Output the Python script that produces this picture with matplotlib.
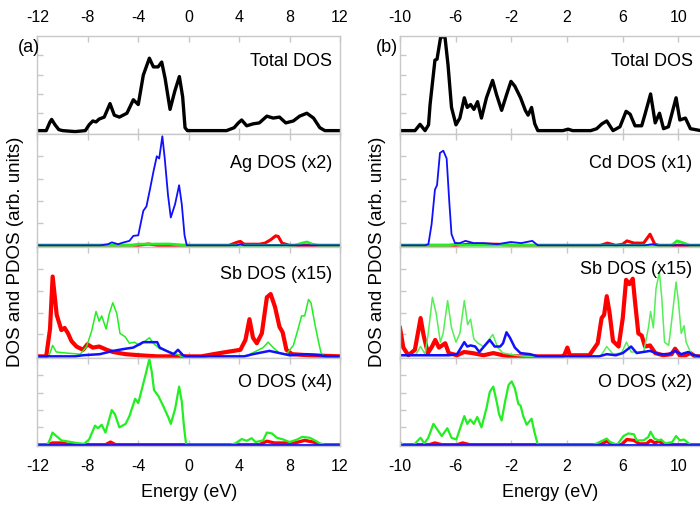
import numpy as np
import matplotlib

matplotlib.use("Agg")
import matplotlib.pyplot as plt

plt.rcParams["font.family"] = ["Liberation Sans", "DejaVu Sans"]
plt.rcParams["axes.unicode_minus"] = False

RED = "#ff0000"
GREEN = "#22ee22"
BLUE = "#1010ff"
BLACK = "#000000"
FRAME = "#c8c8c8"

# ---------------- (a) left column, energies in eV, DOS in arb. units ----------------
a_total = [(-12, 0.02), (-11.3, 0.02), (-11.0, 0.11), (-10.87, 0.136), (-10.6, 0.08), (-10.3, 0.03),
           (-10.0, 0.02), (-9.0, 0.01), (-8.2, 0.02), (-7.9, 0.08), (-7.6, 0.12), (-7.35, 0.11),
           (-7.1, 0.14), (-6.7, 0.16), (-6.24, 0.30), (-5.9, 0.18), (-5.5, 0.16), (-4.9, 0.20),
           (-4.39, 0.34), (-4.0, 0.29), (-3.6, 0.595), (-3.12, 0.77), (-2.8, 0.68), (-2.43, 0.68),
           (-2.14, 0.73), (-1.87, 0.56), (-1.48, 0.24), (-1.1, 0.43), (-0.74, 0.58), (-0.48, 0.37),
           (-0.29, 0.05), (-0.1, 0.02), (3.0, 0.02), (3.6, 0.05), (3.94, 0.10), (4.2, 0.13),
           (4.6, 0.07), (5.1, 0.09), (5.6, 0.10), (6.2, 0.17), (6.7, 0.15), (7.2, 0.16), (7.7, 0.10),
           (8.3, 0.12), (8.8, 0.17), (9.37, 0.20), (9.9, 0.15), (10.4, 0.05), (10.8, 0.02), (12, 0.02)]

a_ag_s = [(-12, 0.0), (-4.0, 0.0), (-3.2, 0.012), (-2.5, 0.0), (3.2, 0.0), (3.9, 0.03), (4.1, 0.035),
          (4.4, 0.01), (5.6, 0.01), (6.05, 0.02), (6.5, 0.05), (6.9, 0.085), (7.1, 0.08), (7.4, 0.02),
          (8.0, 0.0), (12, 0.0)]
a_ag_p = [(-12, 0.0), (-4.5, 0.0), (-4.0, 0.01), (-1.5, 0.012), (-0.5, 0.0), (8.4, 0.0), (9.0, 0.02),
          (9.37, 0.03), (9.8, 0.01), (10.3, 0.0), (12, 0.0)]
a_ag_d = [(-12, 0.0), (-7.0, 0.0), (-6.4, 0.01), (-6.1, 0.027), (-5.6, 0.01), (-5.2, 0.025),
          (-4.7, 0.04), (-4.39, 0.085), (-4.0, 0.09), (-3.6, 0.31), (-3.35, 0.35), (-3.06, 0.51),
          (-2.8, 0.66), (-2.53, 0.80), (-2.34, 0.78), (-2.09, 0.98), (-1.9, 0.78), (-1.64, 0.45),
          (-1.42, 0.25), (-1.08, 0.37), (-0.76, 0.54), (-0.55, 0.37), (-0.33, 0.09), (-0.15, 0.0),
          (3.8, 0.0), (4.1, 0.01), (4.4, 0.0), (12, 0.0)]

a_sb_s = [(-12, 0.0), (-11.3, 0.0), (-11.0, 0.25), (-10.79, 0.73), (-10.47, 0.38), (-10.1, 0.24),
          (-9.84, 0.26), (-9.57, 0.21), (-9.3, 0.14), (-8.9, 0.09), (-8.38, 0.06), (-8.04, 0.11),
          (-7.6, 0.08), (-7.1, 0.09), (-6.5, 0.06), (-6.0, 0.04), (-5.0, 0.02), (-3.9, 0.01),
          (-2.5, 0.0), (1.0, 0.0), (1.96, 0.02), (3.0, 0.04), (4.1, 0.06), (4.5, 0.15), (4.82, 0.34),
          (5.1, 0.17), (5.4, 0.12), (5.8, 0.21), (6.2, 0.54), (6.5, 0.57), (6.85, 0.45), (7.2, 0.27),
          (7.45, 0.22), (7.75, 0.06), (8.2, 0.02), (9.5, 0.01), (12, 0.0)]
a_sb_p = [(-12, 0.0), (-11.1, 0.0), (-10.79, 0.10), (-10.5, 0.04), (-9.7, 0.03), (-8.6, 0.02),
          (-8.1, 0.09), (-7.7, 0.23), (-7.35, 0.41), (-7.1, 0.32), (-6.9, 0.37), (-6.55, 0.25),
          (-6.3, 0.39), (-6.02, 0.49), (-5.7, 0.39), (-5.45, 0.21), (-5.05, 0.18), (-4.7, 0.12),
          (-4.3, 0.13), (-3.9, 0.10), (-3.12, 0.17), (-2.8, 0.12), (-2.3, 0.07), (-1.76, 0.05),
          (-0.95, 0.02), (-0.6, 0.0), (4.3, 0.0), (4.7, 0.01), (5.9, 0.08), (6.3, 0.13), (6.7, 0.08),
          (7.2, 0.03), (7.75, 0.02), (8.3, 0.10), (8.7, 0.26), (8.95, 0.37), (9.2, 0.37), (9.5, 0.52),
          (9.7, 0.49), (10.0, 0.30), (10.3, 0.13), (10.5, 0.03), (10.8, 0.0), (12, 0.0)]
a_sb_d = [(-12, 0.0), (-9.0, 0.0), (-8.4, 0.01), (-7.05, 0.02), (-6.0, 0.05), (-5.0, 0.07),
          (-4.4, 0.08), (-3.6, 0.13), (-3.1, 0.13), (-2.5, 0.13), (-2.3, 0.08), (-1.76, 0.05),
          (-1.2, 0.02), (-0.85, 0.06), (-0.45, 0.01), (-0.2, 0.0), (4.4, 0.0), (5.1, 0.02), (6.4, 0.05),
          (7.2, 0.03), (8.0, 0.01), (9.37, 0.02), (10.4, 0.01), (11.0, 0.0), (12, 0.0)]

a_o_s = [(-12, 0.0), (-11.2, 0.0), (-10.8, 0.02), (-10.0, 0.02), (-9.5, 0.0), (-6.6, 0.0), (-6.2, 0.03),
         (-5.8, 0.0), (5.6, 0.0), (6.2, 0.04), (6.8, 0.02), (8.4, 0.02), (9.2, 0.05), (9.9, 0.03),
         (10.4, 0.0), (12, 0.0)]
a_o_p = [(-12, 0.0), (-11.2, 0.0), (-11.0, 0.06), (-10.8, 0.14), (-10.5, 0.10), (-10.1, 0.05),
         (-9.7, 0.04), (-8.9, 0.02), (-8.3, 0.01), (-7.9, 0.06), (-7.43, 0.22), (-7.2, 0.19),
         (-6.9, 0.23), (-6.6, 0.14), (-6.1, 0.40), (-5.85, 0.35), (-5.5, 0.20), (-5.0, 0.24),
         (-4.7, 0.33), (-4.25, 0.53), (-4.0, 0.48), (-3.7, 0.65), (-3.4, 0.82), (-3.12, 0.99),
         (-2.93, 0.84), (-2.75, 0.63), (-2.4, 0.56), (-2.0, 0.44), (-1.6, 0.31), (-1.42, 0.24),
         (-1.08, 0.41), (-0.76, 0.67), (-0.55, 0.50), (-0.37, 0.20), (-0.2, 0.0), (3.3, 0.0),
         (3.7, 0.015), (4.2, 0.065), (4.6, 0.045), (5.0, 0.075), (5.3, 0.03), (5.9, 0.05), (6.2, 0.14),
         (6.6, 0.13), (7.0, 0.08), (7.5, 0.06), (8.0, 0.03), (8.6, 0.06), (9.0, 0.09), (9.6, 0.08),
         (10.0, 0.05), (10.4, 0.015), (10.8, 0.0), (12, 0.0)]
a_o_d = [(-12, 0.0), (12, 0.0)]

# ---------------- (b) right column ----------------
b_total = [(-10, 0.02), (-9.3, 0.02), (-8.92, 0.02), (-8.56, 0.085), (-8.2, 0.02), (-7.95, 0.08),
           (-7.84, 0.29), (-7.49, 0.75), (-7.34, 0.76), (-7.08, 0.99), (-6.77, 0.99), (-6.55, 0.70),
           (-6.3, 0.26), (-5.98, 0.08), (-5.7, 0.15), (-5.38, 0.36), (-5.17, 0.26), (-4.93, 0.29),
           (-4.69, 0.24), (-4.43, 0.32), (-4.15, 0.15), (-3.79, 0.36), (-3.35, 0.54), (-3.06, 0.39),
           (-2.7, 0.23), (-2.35, 0.39), (-2.03, 0.53), (-1.75, 0.48), (-1.34, 0.36), (-1.0, 0.23),
           (-0.8, 0.18), (-0.55, 0.26), (-0.32, 0.09), (-0.1, 0.02), (1.7, 0.02), (2.07, 0.035),
           (2.4, 0.02), (3.7, 0.02), (4.13, 0.04), (4.5, 0.09), (4.85, 0.12), (5.3, 0.02), (5.8, 0.06),
           (6.24, 0.22), (6.53, 0.19), (6.88, 0.07), (7.36, 0.07), (7.6, 0.19), (8.0, 0.40),
           (8.33, 0.10), (8.64, 0.20), (8.93, 0.04), (9.28, 0.06), (9.83, 0.36), (10.1, 0.13),
           (10.5, 0.15), (10.86, 0.04), (11.6, 0.02)]

b_cd_s = [(-10, 0.0), (-6.0, 0.0), (-5.0, 0.01), (-3.0, 0.01), (-2.0, 0.0), (4.4, 0.0), (4.9, 0.02),
          (5.5, 0.0), (6.0, 0.01), (6.3, 0.04), (6.8, 0.02), (7.5, 0.02), (7.96, 0.10), (8.3, 0.01),
          (8.6, 0.0), (11.6, 0.0)]
b_cd_p = [(-10, 0.0), (-6.5, 0.0), (-6.0, 0.01), (-5.5, 0.0), (9.5, 0.0), (9.9, 0.04), (10.4, 0.02),
          (10.8, 0.0), (11.6, 0.0)]
b_cd_d = [(-10, 0.0), (-8.2, 0.0), (-7.96, 0.01), (-7.73, 0.19), (-7.49, 0.50), (-7.34, 0.54),
          (-7.13, 0.83), (-6.89, 0.85), (-6.65, 0.78), (-6.46, 0.39), (-6.3, 0.10), (-6.05, 0.02),
          (-5.7, 0.02), (-5.3, 0.04), (-4.7, 0.02), (-4.0, 0.02), (-3.0, 0.01), (-2.05, 0.03),
          (-1.3, 0.02), (-0.5, 0.04), (-0.1, 0.0), (7.6, 0.0), (8.1, 0.01), (8.5, 0.0), (11.6, 0.0)]

b_sb_s = [(-10, 0.26), (-9.76, 0.08), (-9.4, 0.01), (-8.93, 0.06), (-8.52, 0.35), (-8.3, 0.19),
          (-8.0, 0.03), (-7.7, 0.09), (-7.47, 0.15), (-7.2, 0.08), (-6.75, 0.12), (-6.5, 0.03),
          (-5.9, 0.01), (-5.4, 0.04), (-4.8, 0.03), (-4.0, 0.01), (-3.3, 0.03), (-2.6, 0.01),
          (-2.0, 0.0), (1.6, 0.0), (1.8, 0.01), (2.02, 0.08), (2.2, 0.01), (3.6, 0.01), (4.2, 0.12),
          (4.48, 0.35), (4.66, 0.38), (4.85, 0.55), (5.04, 0.41), (5.3, 0.14), (5.7, 0.09), (6.0, 0.35),
          (6.24, 0.70), (6.48, 0.66), (6.72, 0.71), (6.88, 0.50), (7.12, 0.21), (7.36, 0.19),
          (7.6, 0.09), (7.96, 0.10), (8.33, 0.03), (8.9, 0.01), (9.5, 0.02), (9.76, 0.07),
          (10.1, 0.01), (10.5, 0.01), (10.86, 0.03), (11.2, 0.0), (11.6, 0.0)]
b_sb_p = [(-10, 0.01), (-8.9, 0.01), (-8.52, 0.09), (-8.2, 0.02), (-7.97, 0.21), (-7.67, 0.54),
          (-7.4, 0.39), (-7.1, 0.13), (-6.9, 0.21), (-6.58, 0.51), (-6.3, 0.26), (-5.98, 0.13),
          (-5.7, 0.21), (-5.38, 0.51), (-5.14, 0.29), (-4.93, 0.34), (-4.7, 0.16), (-4.4, 0.12),
          (-4.0, 0.09), (-3.7, 0.14), (-3.33, 0.20), (-2.98, 0.08), (-2.6, 0.03), (-1.7, 0.01),
          (-1.0, 0.0), (4.4, 0.0), (4.85, 0.09), (5.3, 0.02), (5.9, 0.03), (6.27, 0.13), (6.6, 0.04),
          (7.5, 0.04), (7.84, 0.26), (8.0, 0.41), (8.2, 0.26), (8.39, 0.62), (8.63, 0.77), (8.8, 0.54),
          (9.0, 0.13), (9.3, 0.10), (9.5, 0.31), (9.83, 0.68), (10.0, 0.50), (10.2, 0.21),
          (10.4, 0.28), (10.55, 0.13), (10.86, 0.04), (11.2, 0.0), (11.6, 0.0)]
b_sb_d = [(-10, 0.01), (-6.5, 0.01), (-5.9, 0.02), (-5.38, 0.13), (-5.17, 0.09), (-4.93, 0.10),
          (-4.6, 0.09), (-4.3, 0.04), (-3.9, 0.10), (-3.55, 0.15), (-3.2, 0.09), (-2.8, 0.09),
          (-2.6, 0.12), (-2.35, 0.22), (-2.1, 0.17), (-1.75, 0.08), (-1.35, 0.03), (-0.65, 0.02),
          (-0.1, 0.0), (4.3, 0.0), (4.85, 0.02), (5.5, 0.01), (6.0, 0.03), (6.6, 0.09), (7.0, 0.03),
          (7.96, 0.05), (8.6, 0.02), (9.3, 0.02), (9.76, 0.05), (10.2, 0.02), (10.7, 0.04),
          (11.1, 0.01), (11.6, 0.0)]

b_o_s = [(-10, 0.0), (-7.9, 0.0), (-7.5, 0.02), (-7.0, 0.0), (-5.9, 0.0), (-5.5, 0.02), (-5.0, 0.0),
         (4.4, 0.0), (4.85, 0.04), (5.3, 0.0), (5.9, 0.0), (6.3, 0.06), (6.8, 0.05), (7.2, 0.01),
         (7.7, 0.01), (8.0, 0.05), (8.3, 0.02), (8.6, 0.04), (9.0, 0.0), (11.6, 0.0)]
b_o_p = [(-10, 0.03), (-9.8, 0.0), (-9.0, 0.0), (-8.52, 0.08), (-8.25, 0.015), (-7.97, 0.08),
         (-7.6, 0.24), (-7.34, 0.18), (-7.0, 0.10), (-6.6, 0.19), (-6.3, 0.08), (-5.95, 0.06),
         (-5.7, 0.18), (-5.38, 0.33), (-5.17, 0.24), (-4.95, 0.29), (-4.7, 0.24), (-4.45, 0.32),
         (-4.15, 0.20), (-3.79, 0.42), (-3.55, 0.61), (-3.3, 0.67), (-3.06, 0.50), (-2.88, 0.35),
         (-2.7, 0.28), (-2.45, 0.50), (-2.2, 0.69), (-1.98, 0.73), (-1.75, 0.65), (-1.5, 0.47),
         (-1.34, 0.45), (-1.15, 0.33), (-0.9, 0.23), (-0.55, 0.30), (-0.35, 0.15), (-0.1, 0.0),
         (3.9, 0.0), (4.2, 0.02), (4.85, 0.07), (5.1, 0.03), (5.6, 0.0), (6.05, 0.10), (6.4, 0.13),
         (6.8, 0.12), (7.0, 0.05), (7.5, 0.05), (7.84, 0.09), (8.0, 0.15), (8.27, 0.07), (8.6, 0.05),
         (8.75, 0.06), (9.06, 0.015), (9.55, 0.03), (9.83, 0.10), (10.1, 0.05), (10.4, 0.06),
         (10.86, 0.0), (11.6, 0.0)]
b_o_d = [(-10, 0.0), (11.6, 0.0)]

a_labels = ["Total DOS", "Ag DOS (x2)", "Sb DOS (x15)", "O DOS (x4)"]
b_labels = ["Total DOS", "Cd DOS (x1)", "Sb DOS (x15)", "O DOS (x2)"]
a_ticks = [-12, -8, -4, 0, 4, 8, 12]
b_ticks = [-10, -6, -2, 2, 6, 10]

W, H = 700, 506
ROWS = [37, 135, 248, 359, 447]  # panel edges in pixels from the top


def _xy(pts):
    arr = np.asarray(pts, dtype=float)
    return arr[:, 0], arr[:, 1]


def _panel(fig, x0, x1, row, xlim, ticks):
    top, bot = ROWS[row], ROWS[row + 1]
    ax = fig.add_axes([x0 / W, 1 - bot / H, (x1 - x0) / W, (bot - top) / H])
    ax.set_xlim(*xlim)
    ax.set_ylim(-0.015, 1.0)
    ax.set_xticks(ticks)
    ax.set_yticks([0.2, 0.4, 0.6, 0.8])
    ax.set_yticklabels([])
    ax.tick_params(axis="both", direction="in", color=FRAME, length=4, width=1,
                   top=True, bottom=True, left=True, right=False, labelsize=11.5, pad=9)
    ax.tick_params(axis="x", labeltop=(row == 0), labelbottom=(row == 3))
    for s in ax.spines.values():
        s.set_color(FRAME)
        s.set_linewidth(1)
    return ax


def _pdos(ax, s, p, d, lw_s, lw_p, lw_d, p_color=GREEN):
    ax.plot(*_xy(s), color=RED, lw=lw_s, solid_joinstyle="round")
    ax.plot(*_xy(p), color=p_color, lw=lw_p, solid_joinstyle="round")
    ax.plot(*_xy(d), color=BLUE, lw=lw_d, solid_joinstyle="round")


fig = plt.figure(figsize=(W / 100, H / 100), dpi=100)

columns = [
    (37.4, 340, (-12, 12), a_ticks, a_labels, a_total,
     [(a_ag_s, a_ag_p, a_ag_d), (a_sb_s, a_sb_p, a_sb_d), (a_o_s, a_o_p, a_o_d)], "(a)", 18),
    (400, 701, (-10, 11.62), b_ticks, b_labels, b_total,
     [(b_cd_s, b_cd_p, b_cd_d), (b_sb_s, b_sb_p, b_sb_d), (b_o_s, b_o_p, b_o_d)], "(b)", 376),
]
widths = [(2.2, 2.0, 1.3), (3.0, 1.1, 1.8), (2.4, 1.6, 2.0)]

for x0, x1, xlim, ticks, labels, total, pdos, tag, tag_x in columns:
    axes = [_panel(fig, x0, x1, r, xlim, ticks) for r in range(4)]
    axes[0].plot(*_xy(total), color=BLACK, lw=2.4, solid_joinstyle="round")
    for k, (s, p, d) in enumerate(pdos):
        p_color = "#55ee55" if (tag == "(b)" and k == 1) else GREEN
        _pdos(axes[k + 1], s, p, d, *widths[k], p_color=p_color)
    label_y = [0.745, 0.75, 0.76, 0.73] if tag == "(a)" else [0.745, 0.75, 0.81, 0.73]
    for ax, text, ly in zip(axes, labels, label_y):
        ax.text(0.975 if tag == "(a)" else 0.972, ly, text, transform=ax.transAxes,
                ha="right", va="center", fontsize=13)
    axes[3].set_xlabel("Energy (eV)", fontsize=13, labelpad=7)
    fig.text(tag_x / W, 1 - 48 / H, tag, ha="left", va="center", fontsize=13)
    fig.text((x0 - 22) / W, 1 - 252 / H, "DOS and PDOS (arb. units)", rotation=90,
             ha="center", va="center", fontsize=13.5)

fig.savefig("out.png", dpi=100)
